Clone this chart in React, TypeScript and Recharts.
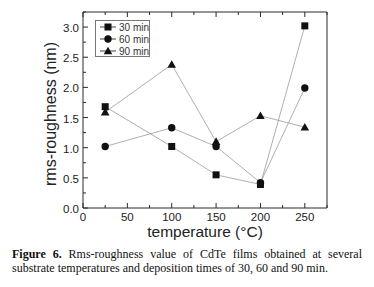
import React from "react";
import { Line, LineChart, XAxis, YAxis } from "recharts";

const temperatures = [25, 100, 150, 200, 250];
const rough30 = [1.68, 1.02, 0.55, 0.39, 3.02];
const rough60 = [1.02, 1.33, 1.02, 0.42, 1.99];
const rough90 = [1.59, 2.38, 1.1, 1.53, 1.34];

const xTicks = [0, 25, 50, 75, 100, 125, 150, 175, 200, 225, 250, 275];
const yTicks = [0, 0.25, 0.5, 0.75, 1, 1.25, 1.5, 1.75, 2, 2.25, 2.5, 2.75, 3, 3.25];

const rows = temperatures.map((t, i) => ({
  t,
  r30: rough30[i],
  r60: rough60[i],
  r90: rough90[i],
}));

const AXIS = "#2a2a2a";
const LINE = "#9a9a9a";
const FONT = "'Liberation Sans', Arial, sans-serif";

type Shape = "square" | "circle" | "triangle";

function marker(shape: Shape, cx: number, cy: number, key?: string) {
  if (shape === "square")
    return <rect key={key} x={cx - 3.5} y={cy - 3.5} width={7} height={7} fill="#111" />;
  if (shape === "circle")
    return <circle key={key} cx={cx} cy={cy} r={3.7} fill="#111" />;
  return (
    <path
      key={key}
      d={`M${cx},${cy - 4.3} L${cx + 4.3},${cy + 3.3} L${cx - 4.3},${cy + 3.3} Z`}
      fill="#111"
    />
  );
}

const dot = (shape: Shape) => (p: any) =>
  marker(shape, p.cx, p.cy, `${shape}-${p.index}`);

const isMajor = (v: number, step: number) => Math.abs(v / step - Math.round(v / step)) < 1e-6;

function BottomTick(p: any) {
  const v = p.payload.value;
  const major = isMajor(v, 50);
  return (
    <g>
      <line x1={p.x} x2={p.x} y1={p.y} y2={p.y - (major ? 5 : 3)} stroke={AXIS} />
      {major && v <= 250 && (
        <text x={p.x} y={p.y + 13} textAnchor="middle" fontSize={11.5} fill="#222" fontFamily={FONT}>
          {v}
        </text>
      )}
    </g>
  );
}

function TopTick(p: any) {
  const major = isMajor(p.payload.value, 50);
  return <line x1={p.x} x2={p.x} y1={p.y} y2={p.y + (major ? 5 : 3)} stroke={AXIS} />;
}

function LeftTick(p: any) {
  const v = p.payload.value;
  const major = isMajor(v, 0.5);
  return (
    <g>
      <line x1={p.x} x2={p.x + (major ? 5 : 3)} y1={p.y} y2={p.y} stroke={AXIS} />
      {major && (
        <text x={p.x - 4} y={p.y + 5} textAnchor="end" fontSize={11.5} fill="#222" fontFamily={FONT}>
          {v.toFixed(1)}
        </text>
      )}
    </g>
  );
}

function RightTick(p: any) {
  const major = isMajor(p.payload.value, 0.5);
  return <line x1={p.x} x2={p.x - (major ? 5 : 3)} y1={p.y} y2={p.y} stroke={AXIS} />;
}

const legendItems: { label: string; shape: Shape }[] = [
  { label: "30 min", shape: "square" },
  { label: "60 min", shape: "circle" },
  { label: "90 min", shape: "triangle" },
];

function LegendBox() {
  return (
    <svg width={56} height={38} style={{ position: "absolute", left: 95, top: 20 }}>
      <rect x={0.5} y={0.5} width={54} height={36} fill="#fff" stroke="#777" />
      {legendItems.map((it, i) => {
        const y = 7 + i * 12;
        return (
          <g key={it.label}>
            <line x1={5} x2={21} y1={y} y2={y} stroke="#444" />
            {marker(it.shape, 13, y)}
            <text x={24} y={y + 3.5} fontSize={10} fill="#333" fontFamily={FONT}>
              {it.label}
            </text>
          </g>
        );
      })}
    </svg>
  );
}

export default function App() {
  return (
    <div style={{ position: "absolute", left: 0, top: 0, width: 374, height: 287, background: "#fff" }}>
      <LineChart
        width={374}
        height={287}
        data={rows}
        margin={{ top: 11, right: 46, left: 82, bottom: 78 }}
      >
        <XAxis
          xAxisId="b"
          dataKey="t"
          type="number"
          domain={[0, 275]}
          ticks={xTicks}
          interval={0}
          height={1}
          tickSize={0}
          tickMargin={0}
          tick={<BottomTick />}
          axisLine={{ stroke: AXIS }}
          label={{
            content: () => (
              <text x={205} y={237} textAnchor="middle" fontSize={15.5} fill="#222" fontFamily={FONT}>
                temperature (°C)
              </text>
            ),
          }}
        />
        <XAxis
          xAxisId="t"
          orientation="top"
          dataKey="t"
          type="number"
          domain={[0, 275]}
          ticks={xTicks}
          interval={0}
          height={1}
          tickSize={0}
          tickMargin={0}
          tick={<TopTick />}
          axisLine={{ stroke: AXIS }}
        />
        <YAxis
          yAxisId="l"
          type="number"
          domain={[0, 3.25]}
          ticks={yTicks}
          interval={0}
          width={1}
          tickSize={0}
          tickMargin={0}
          tick={<LeftTick />}
          axisLine={{ stroke: AXIS }}
          label={{
            content: () => (
              <text
                x={56}
                y={114}
                transform="rotate(-90 56 114)"
                textAnchor="middle"
                fontSize={16}
                fill="#222"
                fontFamily={FONT}
              >
                rms-roughness (nm)
              </text>
            ),
          }}
        />
        <YAxis
          yAxisId="r"
          orientation="right"
          type="number"
          domain={[0, 3.25]}
          ticks={yTicks}
          interval={0}
          width={1}
          tickSize={0}
          tickMargin={0}
          tick={<RightTick />}
          axisLine={{ stroke: AXIS }}
        />
        <Line xAxisId="b" yAxisId="l" dataKey="r30" stroke={LINE} strokeWidth={0.8} dot={dot("square")} isAnimationActive={false} />
        <Line xAxisId="b" yAxisId="l" dataKey="r60" stroke={LINE} strokeWidth={0.8} dot={dot("circle")} isAnimationActive={false} />
        <Line xAxisId="b" yAxisId="l" dataKey="r90" stroke={LINE} strokeWidth={0.8} dot={dot("triangle")} isAnimationActive={false} />
      </LineChart>
      <LegendBox />
      <div
        style={{
          position: "absolute",
          left: 12,
          top: 247,
          width: 350,
          fontFamily: "'Liberation Serif', 'Times New Roman', serif",
          fontSize: 12,
          lineHeight: "14px",
          textAlign: "justify",
          color: "#111",
        }}
      >
        <b>Figure 6.</b> Rms-roughness value of CdTe films obtained at several substrate
        temperatures and deposition times of 30, 60 and 90 min.
      </div>
    </div>
  );
}
